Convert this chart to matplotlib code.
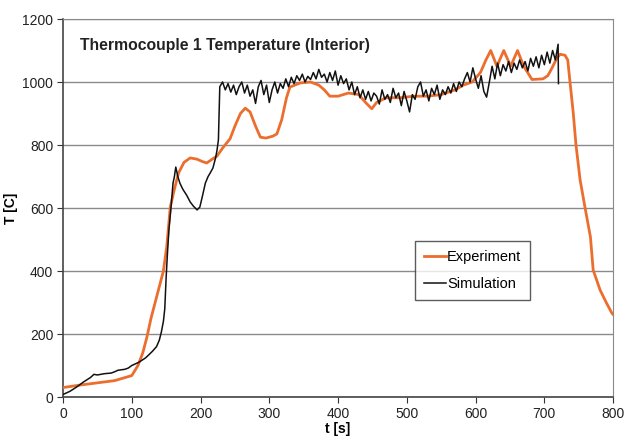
import matplotlib
matplotlib.use("Agg")
import matplotlib.pyplot as plt
import numpy as np

plt.rcParams['font.family'] = ['Liberation Sans', 'DejaVu Sans']

# Experiment (orange)
exp_time = [0, 25, 50, 75, 100, 109, 116, 122, 128, 134, 140, 146, 151, 156,
            162, 168, 176, 185, 195, 202, 209, 217, 224, 232, 243, 250, 258,
            265, 272, 280, 287, 295, 305, 311, 318, 325, 330, 345, 360, 372,
            380, 388, 400, 415, 430, 440, 449, 456, 470, 490, 510, 530, 550,
            570, 582, 595, 607, 615, 622, 631, 641, 651, 661, 670, 682, 698,
            705, 711, 718, 723, 730, 734, 737, 742, 746, 752, 759, 767, 771,
            781, 790, 798, 800]
exp_temp = [30, 38, 45, 52, 68, 100, 140, 190, 250, 300, 350, 400, 480, 603,
            660, 711, 745, 759, 755, 748, 743, 755, 765, 790, 820, 860, 900,
            917, 905, 860, 825, 822, 828, 835, 880, 950, 984, 997, 1000, 990,
            975, 955, 955, 965, 960, 935, 915, 935, 950, 950, 955, 955, 960,
            975, 990, 1000, 1030, 1070, 1100, 1050, 1100, 1050, 1100, 1050, 1008, 1010,
            1020, 1044, 1075, 1088, 1085, 1070, 1006, 902, 800, 689, 603, 508, 403,
            340, 300, 267, 262]

# Simulation (black) - rise phase
sim_time_rise = [0, 10, 20, 30, 40, 45, 50, 55, 60, 70, 75, 80, 90, 95, 100,
                 110, 120, 130, 136, 140, 143, 146, 148, 150, 152, 154, 157,
                 160, 162, 164, 167, 170, 173, 175, 180, 185, 190, 195, 199,
                 203, 207, 211, 214, 218, 222, 224, 226, 227]
sim_temp_rise = [8, 18, 32, 48, 62, 72, 70, 72, 74, 76, 80, 85, 88, 92, 100,
                 110, 124, 145, 160, 180, 206, 240, 280, 380, 460, 530, 600,
                 679, 700, 730, 700, 679, 665, 657, 640, 619, 605, 594, 603,
                 640, 679, 700, 711, 727, 760, 784, 816, 900]

# Simulation (black) - plateau, sampled every 4 s from 228 s to 720 s
sim_time_plateau = np.arange(228, 721, 4)
sim_temp_plateau = [
    985, 1000, 975, 995, 968, 990, 960, 985, 1000, 965, 990, 955, 975, 932,
    985, 1005, 960, 990, 935, 975, 1000, 965, 995, 980, 1010, 985,
    1015, 995, 1020, 1005, 1025, 1000, 1018, 1008, 1030, 1010, 1040, 1015,
    1025, 1000, 1030,
    1005, 1035, 990, 1020, 995, 1010, 975, 1000,
    960, 985, 950, 975, 945, 970, 940, 965, 955, 930, 975, 945, 960, 935,
    980, 950, 965, 925, 970, 940, 905, 960, 945, 985, 1000,
    955, 975, 940, 980, 960, 990, 945, 975, 960, 985, 965, 995, 970, 1000,
    985, 1010,
    1030, 1000, 1045, 1010, 980, 1020, 970, 952, 1000,
    1050, 1010, 1060, 1020, 1055, 1035, 1065, 1030, 1060, 1040, 1070, 1045,
    1065, 1035, 1075, 1050, 1080, 1045, 1085, 1055, 1095, 1060, 1100, 1070,
    1120]
sim_time_end = [720.5]
sim_temp_end = [995]

sim_time = list(sim_time_rise) + list(sim_time_plateau) + sim_time_end
sim_temp = sim_temp_rise + sim_temp_plateau + sim_temp_end

fig = plt.figure(figsize=(6.25, 4.37), dpi=100)
ax = fig.add_axes([0.1008, 0.0915, 0.8802, 0.865])

ax.plot(exp_time, exp_temp, color='#EC6E2E', lw=2.0, label='Experiment', zorder=3)
ax.plot(sim_time, sim_temp, color='#111111', lw=1.1, label='Simulation', zorder=4)

ax.set_xlim(0, 800)
ax.set_ylim(0, 1200)
ax.set_xticks(np.arange(0, 801, 100))
ax.set_yticks(np.arange(0, 1201, 200))
ax.yaxis.grid(True, color='#8a8a8a', lw=1.0)
ax.set_axisbelow(True)

for side in ['top', 'right']:
    ax.spines[side].set_color('#8a8a8a')
for side in ['left', 'bottom']:
    ax.spines[side].set_color('#444444')
    ax.spines[side].set_linewidth(1.2)

ax.tick_params(axis='both', labelsize=10, colors='#333333', length=4,
               labelcolor='#222222', pad=3)
ax.set_xlabel('t [s]', fontsize=10, fontweight='bold', labelpad=1)
ax.set_ylabel('T [C]', fontsize=10, fontweight='bold', labelpad=3)

ax.text(0.031, 0.93, 'Thermocouple 1 Temperature (Interior)', transform=ax.transAxes,
        fontsize=11.3, fontweight='bold', ha='left', va='center', color='#222222')

leg = ax.legend(loc='upper left', bbox_to_anchor=(0.64, 0.413), fontsize=10.5,
                frameon=True, fancybox=False, handlelength=1.5,
                handletextpad=0.1, borderpad=0.6, labelspacing=0.9,
                borderaxespad=0)
leg.get_frame().set_edgecolor('#333333')
leg.get_frame().set_linewidth(1.0)

fig.savefig('out.png', dpi=100, facecolor='white')
